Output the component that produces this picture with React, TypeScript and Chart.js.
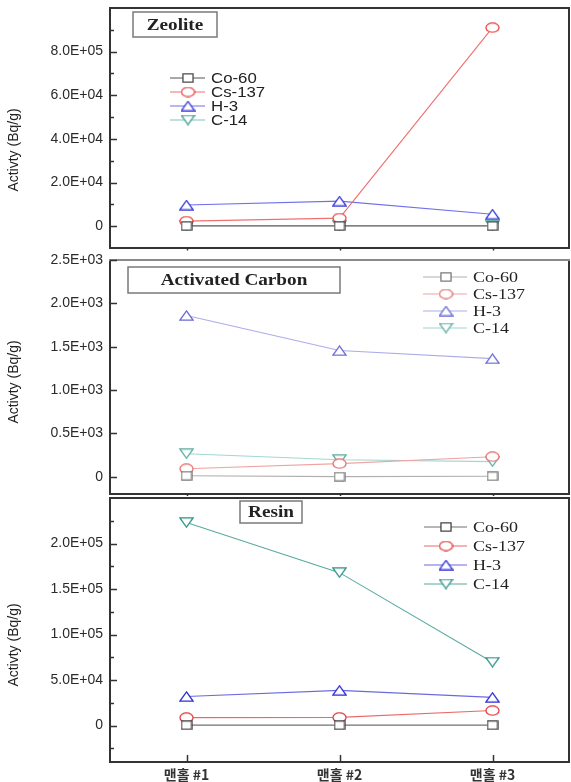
import React, { useEffect, useRef } from 'react';
import { Chart, registerables } from 'chart.js';

Chart.register(...registerables);

// ---------- data ----------
const categories = ['맨홀 #1', '맨홀 #2', '맨홀 #3'];
const nuclides = ['Co-60', 'Cs-137', 'H-3', 'C-14'];

const zeoliteCo60 = [100, 100, 100];
const zeoliteCs137 = [2300, 3700, 91000];
const zeoliteH3 = [9700, 11500, 5500];
const zeoliteC14 = [300, 300, 300];

const carbonCo60 = [10, 0, 5];
const carbonCs137 = [92, 150, 230];
const carbonH3 = [1860, 1455, 1362];
const carbonC14 = [265, 196, 173];

const resinCo60 = [500, 500, 500];
const resinCs137 = [8800, 9000, 16500];
const resinH3 = [32000, 38700, 31000];
const resinC14 = [223000, 168000, 69600];

const zeoliteTickValues = [0, 20000, 40000, 60000, 80000];
const zeoliteTickLabels = ['0', '2.0E+04', '4.0E+04', '6.0E+04', '8.0E+05'];
const zeoliteMinorTicks = [10000, 30000, 50000, 70000, 90000];

const carbonTickValues = [0, 500, 1000, 1500, 2000, 2500];
const carbonTickLabels = ['0', '0.5E+03', '1.0E+03', '1.5E+03', '2.0E+03', '2.5E+03'];
const carbonMinorTicks: number[] = [];

const resinTickValues = [0, 50000, 100000, 150000, 200000];
const resinTickLabels = ['0', '5.0E+04', '1.0E+05', '1.5E+05', '2.0E+05'];
const resinMinorTicks = [-25000, 25000, 75000, 125000, 175000, 225000];

const markerShapes = ['rect', 'circle', 'tri', 'invtri'];

// ---------- helpers ----------
function makeMarker(shape: string, color: string, lw = 1.3): HTMLCanvasElement {
  const c = document.createElement('canvas');
  let w = 15;
  let h = 11;
  if (shape === 'rect') {
    w = 12;
    h = 10;
  }
  c.width = w;
  c.height = h;
  const ctx = c.getContext('2d')!;
  ctx.strokeStyle = color;
  ctx.fillStyle = '#ffffff';
  ctx.lineWidth = lw;
  const p = lw / 2 + 0.3;
  ctx.beginPath();
  if (shape === 'rect') {
    ctx.rect(p, p, w - 2 * p, h - 2 * p);
  } else if (shape === 'circle') {
    ctx.ellipse(w / 2, h / 2, w / 2 - p, h / 2 - p, 0, 0, Math.PI * 2);
  } else if (shape === 'tri') {
    ctx.moveTo(w / 2, p);
    ctx.lineTo(w - p, h - p);
    ctx.lineTo(p, h - p);
    ctx.closePath();
  } else {
    ctx.moveTo(p, p);
    ctx.lineTo(w - p, p);
    ctx.lineTo(w / 2, h - p);
    ctx.closePath();
  }
  ctx.fill();
  ctx.stroke();
  return c;
}

function scaledText(
  ctx: CanvasRenderingContext2D,
  text: string,
  x: number,
  y: number,
  font: string,
  color: string,
  sx: number,
  align: CanvasTextAlign
) {
  ctx.save();
  ctx.translate(x, y);
  ctx.scale(sx, 1);
  ctx.font = font;
  ctx.fillStyle = color;
  ctx.textAlign = align;
  ctx.textBaseline = 'middle';
  ctx.fillText(text, 0, 0);
  ctx.restore();
}

interface Panel {
  title: string;
  series: number[][];
  markerColors: string[];
  lineColors: string[];
  min: number;
  max: number;
  tickValues: number[];
  tickLabels: string[];
  minorTicks: number[];
  canvasTop: number;
  canvasHeight: number;
  padTop: number;
  xHeight: number;
  showX: boolean;
  legend: { lx1: number; lx2: number; mx: number; tx: number; y0: number; dy: number; font: string; color: string };
  box: { x: number; y: number; w: number; h: number; font: string };
  frameTop: string;
  yTitleOffset: number;
  xTickInward: boolean;
}

const panels: Panel[] = [
  {
    title: 'Zeolite',
    series: [zeoliteCo60, zeoliteCs137, zeoliteH3, zeoliteC14],
    markerColors: ['#4a4a4a', '#e84848', '#3838dc', '#3a9e94'],
    lineColors: ['#555555', '#ee7070', '#7070ec', '#80c4bc'],
    min: -10000,
    max: 100000,
    tickValues: zeoliteTickValues,
    tickLabels: zeoliteTickLabels,
    minorTicks: zeoliteMinorTicks,
    canvasTop: 0,
    canvasHeight: 254,
    padTop: 8,
    xHeight: 6,
    showX: false,
    legend: { lx1: 60, lx2: 95, mx: 78, tx: 101, y0: 70, dy: 14, font: '14px "Liberation Sans", Arial, sans-serif', color: '#222' },
    box: { x: 23, y: 4, w: 84, h: 25, font: 'bold 16px "Liberation Serif", "Times New Roman", serif' },
    frameTop: '#333',
    yTitleOffset: 22,
    xTickInward: false,
  },
  {
    title: 'Activated Carbon',
    series: [carbonCo60, carbonCs137, carbonH3, carbonC14],
    markerColors: ['#7a7a7a', '#e87070', '#6a6ad6', '#5caea4'],
    lineColors: ['#b0b0b0', '#f0a4a4', '#acacea', '#a4d6d0'],
    min: -200,
    max: 2500,
    tickValues: carbonTickValues,
    tickLabels: carbonTickLabels,
    minorTicks: carbonMinorTicks,
    canvasTop: 254,
    canvasHeight: 242,
    padTop: 6,
    xHeight: 2,
    showX: false,
    legend: { lx1: 313, lx2: 357, mx: 336, tx: 363, y0: 17, dy: 17, font: '15px "Liberation Serif", "Times New Roman", serif', color: '#222' },
    box: { x: 18, y: 7, w: 212, h: 26, font: 'bold 16px "Liberation Serif", "Times New Roman", serif' },
    frameTop: '#8a8a8a',
    yTitleOffset: 5,
    xTickInward: false,
  },
  {
    title: 'Resin',
    series: [resinCo60, resinCs137, resinH3, resinC14],
    markerColors: ['#444444', '#e43c3c', '#2f2fd6', '#2f958a'],
    lineColors: ['#707070', '#ea6a6a', '#6a6ae0', '#5aaaa0'],
    min: -40000,
    max: 250000,
    tickValues: resinTickValues,
    tickLabels: resinTickLabels,
    minorTicks: resinMinorTicks,
    canvasTop: 496,
    canvasHeight: 286,
    padTop: 2,
    xHeight: 20,
    showX: true,
    legend: { lx1: 314, lx2: 357, mx: 336, tx: 363, y0: 29, dy: 19, font: '15px "Liberation Serif", "Times New Roman", serif', color: '#222' },
    box: { x: 130, y: 3, w: 62, h: 22, font: 'bold 16px "Liberation Serif", "Times New Roman", serif' },
    frameTop: '#333',
    yTitleOffset: 15,
    xTickInward: true,
  },
];

function zeroPadding(s: any) {
  s.paddingTop = 0;
  s.paddingBottom = 0;
  s.paddingLeft = 0;
  s.paddingRight = 0;
}

function buildChart(canvas: HTMLCanvasElement, p: Panel): Chart {
  const markers = markerShapes.map((s, i) => makeMarker(s, p.markerColors[i]));

  const panelPlugin = {
    id: 'panelDecor',
    afterDraw(chart: any) {
      const ctx: CanvasRenderingContext2D = chart.ctx;
      const a = chart.chartArea;
      const ys = chart.scales.y;
      const xs = chart.scales.x;
      ctx.save();

      // frame
      ctx.lineWidth = 2;
      ctx.strokeStyle = '#333';
      ctx.beginPath();
      ctx.moveTo(a.left, a.top);
      ctx.lineTo(a.left, a.bottom);
      ctx.lineTo(a.right, a.bottom);
      ctx.lineTo(a.right, a.top);
      ctx.stroke();
      ctx.strokeStyle = p.frameTop;
      ctx.beginPath();
      ctx.moveTo(a.left - 1, a.top);
      ctx.lineTo(a.right + 1, a.top);
      ctx.stroke();

      // y ticks (inward)
      ctx.strokeStyle = '#333';
      ctx.lineWidth = 1.5;
      p.tickValues.forEach((v) => {
        const y = Math.round(ys.getPixelForValue(v)) + 0.5;
        ctx.beginPath();
        ctx.moveTo(a.left, y);
        ctx.lineTo(a.left + 7, y);
        ctx.stroke();
      });
      p.minorTicks.forEach((v) => {
        const y = Math.round(ys.getPixelForValue(v)) + 0.5;
        ctx.beginPath();
        ctx.moveTo(a.left, y);
        ctx.lineTo(a.left + 4, y);
        ctx.stroke();
      });

      // x ticks
      categories.forEach((_, i) => {
        const x = Math.round(xs.getPixelForValue(i)) + 0.5;
        ctx.beginPath();
        if (p.xTickInward) {
          ctx.moveTo(x, a.bottom);
          ctx.lineTo(x, a.bottom - 7);
        } else {
          ctx.moveTo(x, a.bottom);
          ctx.lineTo(x, a.bottom + 2.5);
        }
        ctx.stroke();
      });

      // title box
      const b = p.box;
      ctx.fillStyle = '#ffffff';
      ctx.fillRect(a.left + b.x, a.top + b.y, b.w, b.h);
      ctx.strokeStyle = '#7a7a7a';
      ctx.lineWidth = 1.5;
      ctx.strokeRect(a.left + b.x, a.top + b.y, b.w, b.h);
      scaledText(ctx, p.title, a.left + b.x + b.w / 2, a.top + b.y + b.h / 2 + 1, b.font, '#222', 1.2, 'center');

      // legend
      const L = p.legend;
      nuclides.forEach((name, i) => {
        const y = a.top + L.y0 + i * L.dy;
        ctx.strokeStyle = p.lineColors[i];
        ctx.lineWidth = 1.2;
        ctx.beginPath();
        ctx.moveTo(a.left + L.lx1, y);
        ctx.lineTo(a.left + L.lx2, y);
        ctx.stroke();
        const m = markers[i];
        ctx.drawImage(m, a.left + L.mx - m.width / 2, y - m.height / 2);
        scaledText(ctx, name, a.left + L.tx, y + 1, L.font, L.color, 1.2, 'left');
      });

      // y axis title
      ctx.save();
      ctx.translate(14, (a.top + a.bottom) / 2 + p.yTitleOffset);
      ctx.rotate(-Math.PI / 2);
      ctx.font = '14px "Liberation Sans", Arial, sans-serif';
      ctx.fillStyle = '#222';
      ctx.textAlign = 'center';
      ctx.textBaseline = 'middle';
      ctx.fillText('Activty (Bq/g)', 0, 0);
      ctx.restore();

      ctx.restore();
    },
  };

  return new Chart(canvas, {
    type: 'line',
    data: {
      labels: categories,
      datasets: nuclides.map((name, i) => ({
        label: name,
        data: p.series[i],
        borderColor: p.lineColors[i],
        backgroundColor: '#ffffff',
        borderWidth: 1.1,
        pointStyle: markers[i] as any,
        pointRadius: 6,
        pointHoverRadius: 6,
        tension: 0,
        clip: false as any,
      })),
    },
    options: {
      animation: false,
      responsive: false,
      devicePixelRatio: 1,
      layout: { autoPadding: false, padding: { left: 0, right: 2, top: p.padTop, bottom: 0 } },
      plugins: {
        legend: { display: false },
        tooltip: { enabled: false },
        title: { display: false },
      },
      events: [],
      scales: {
        x: {
          type: 'category',
          offset: true,
          grid: { display: false, drawTicks: false },
          border: { display: false },
          afterFit: (s: any) => {
            s.height = p.xHeight;
            zeroPadding(s);
          },
          ticks: {
            display: p.showX,
            maxRotation: 0,
            padding: 4,
            color: '#333',
            font: { family: '"Noto Sans CJK KR", "Noto Sans", sans-serif', size: 14, weight: 'bold' },
          },
        },
        y: {
          type: 'linear',
          min: p.min,
          max: p.max,
          grid: { display: false, drawTicks: false },
          border: { display: false },
          afterFit: (s: any) => {
            s.width = 110;
            zeroPadding(s);
          },
          afterBuildTicks: (s: any) => {
            s.ticks = p.tickValues.map((v) => ({ value: v }));
          },
          ticks: {
            padding: 7,
            color: '#2a2a2a',
            font: { family: '"Liberation Sans", Arial, sans-serif', size: 14 },
            callback: (v: any) => {
              const idx = p.tickValues.indexOf(Number(v));
              return idx >= 0 ? p.tickLabels[idx] : '';
            },
          },
        },
      },
    } as any,
    plugins: [panelPlugin],
  });
}

export default function App() {
  const refs = useRef<(HTMLCanvasElement | null)[]>([]);

  useEffect(() => {
    const charts = panels.map((p, i) => buildChart(refs.current[i]!, p));
    return () => charts.forEach((c) => c.destroy());
  }, []);

  return (
    <div style={{ position: 'fixed', left: 0, top: 0, width: 571, height: 782, background: '#ffffff', overflow: 'hidden' }}>
      {panels.map((p, i) => (
        <canvas
          key={p.title}
          ref={(el) => {
            refs.current[i] = el;
          }}
          width={571}
          height={p.canvasHeight}
          style={{ position: 'absolute', left: 0, top: p.canvasTop, width: 571, height: p.canvasHeight }}
        />
      ))}
    </div>
  );
}
